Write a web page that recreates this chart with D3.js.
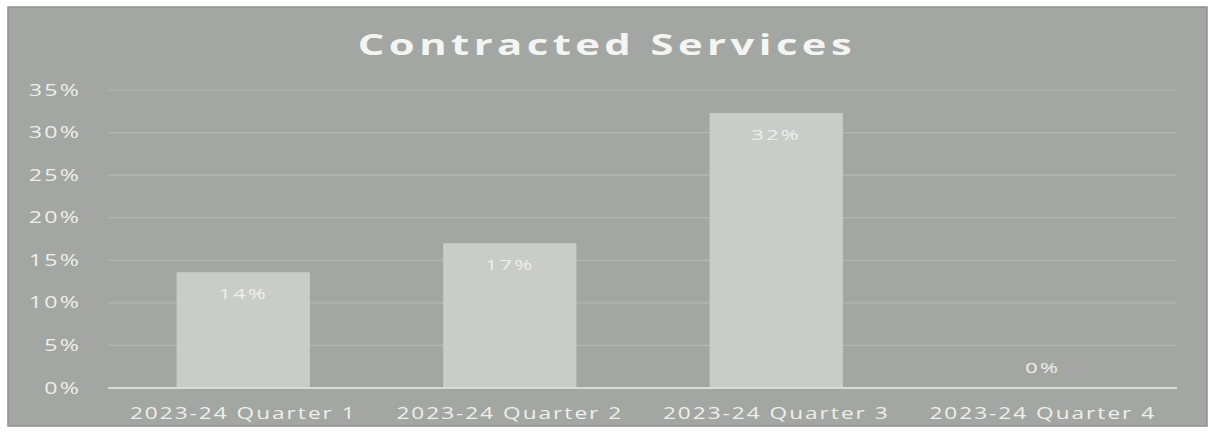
<!DOCTYPE html>
<html>
<head>
<meta charset="utf-8">
<script src="https://cdn.jsdelivr.net/npm/d3@7"></script>
<style>
  html, body { margin: 0; padding: 0; background: #ffffff; }
  svg { display: block; }
</style>
</head>
<body>
<svg id="chart" width="1213" height="432"></svg>
<script>
// Contracted services share per quarter
const categories = ["2023-24 Quarter 1", "2023-24 Quarter 2", "2023-24 Quarter 3", "2023-24 Quarter 4"];
const values = [0.136, 0.17, 0.323, 0];
const yTicks = [0, 0.05, 0.10, 0.15, 0.20, 0.25, 0.30, 0.35];
const title = "Contracted Services";

const svg = d3.select("#chart");
const font = "'Open Sans', 'DejaVu Sans', sans-serif";
const textColor = "#eef0ed";
const panel = { x: 8, y: 7, w: 1199, h: 419 };
const plot = { left: 108, right: 1177, top: 90, bottom: 388 };

// widen glyphs horizontally by a factor (the chart uses an extended face)
function widen(sel, factor) {
  sel.each(function () {
    const len = this.getComputedTextLength();
    d3.select(this)
      .attr("textLength", len * factor)
      .attr("lengthAdjust", "spacingAndGlyphs");
  });
}

// grey panel behind the chart
svg.append("rect")
  .attr("x", panel.x).attr("y", panel.y)
  .attr("width", panel.w).attr("height", panel.h)
  .attr("fill", "#a3a6a2")
  .attr("stroke", "#8e918d").attr("stroke-width", 1.5);

const x = d3.scaleBand()
  .domain(categories)
  .range([110, 1176])
  .paddingInner(0.5).paddingOuter(0.25);

const y = d3.scaleLinear()
  .domain([0, 0.35])
  .range([plot.bottom, plot.top]);

const pct = d3.format(".0%");

// horizontal gridlines
svg.append("g")
  .selectAll("line")
  .data(yTicks.filter(d => d > 0))
  .join("line")
  .attr("x1", plot.left).attr("x2", plot.right)
  .attr("y1", d => y(d)).attr("y2", d => y(d))
  .attr("stroke", "#b4b7b3").attr("stroke-width", 1.2);

// y axis labels
const gy = svg.append("g")
  .attr("transform", `translate(81,0)`)
  .call(d3.axisLeft(y).tickValues(yTicks).tickFormat(pct).tickSize(0).tickPadding(0));
gy.select(".domain").remove();
gy.selectAll("text")
  .attr("fill", textColor)
  .attr("font-family", font)
  .attr("font-size", 16)
  .attr("letter-spacing", 1.5)
  .call(widen, 1.45);

// bars
svg.append("g")
  .selectAll("rect")
  .data(values)
  .join("rect")
  .attr("x", (d, i) => x(categories[i]))
  .attr("y", d => y(d))
  .attr("width", x.bandwidth())
  .attr("height", d => y(0) - y(d))
  .attr("fill", "#c9ccc8");

// baseline
svg.append("line")
  .attr("x1", plot.left).attr("x2", plot.right)
  .attr("y1", y(0)).attr("y2", y(0))
  .attr("stroke", "#d8dbd7").attr("stroke-width", 2);

// value labels
svg.append("g")
  .selectAll("text")
  .data(values)
  .join("text")
  .attr("x", (d, i) => x(categories[i]) + x.bandwidth() / 2)
  .attr("y", d => d > 0.02 ? y(d) + 27 : y(d) - 15)
  .attr("text-anchor", "middle")
  .attr("fill", textColor)
  .attr("font-family", font)
  .attr("font-size", 15)
  .attr("letter-spacing", 1.5)
  .text(d => pct(d))
  .call(widen, 1.45);

// category axis
const gx = svg.append("g")
  .attr("transform", `translate(0,${y(0) + 19})`)
  .call(d3.axisBottom(x).tickSize(0).tickPadding(0));
gx.select(".domain").remove();
gx.selectAll("text")
  .attr("fill", textColor)
  .attr("font-family", font)
  .attr("font-size", 17)
  .attr("letter-spacing", 1.5)
  .call(widen, 1.33);

// chart title
svg.append("text")
  .attr("x", 607).attr("y", 55)
  .attr("text-anchor", "middle")
  .attr("fill", "#f4f5f3")
  .attr("font-family", font)
  .attr("font-weight", "bold")
  .attr("font-size", 28)
  .attr("letter-spacing", 3)
  .text(title)
  .call(widen, 1.49);
</script>
</body>
</html>
